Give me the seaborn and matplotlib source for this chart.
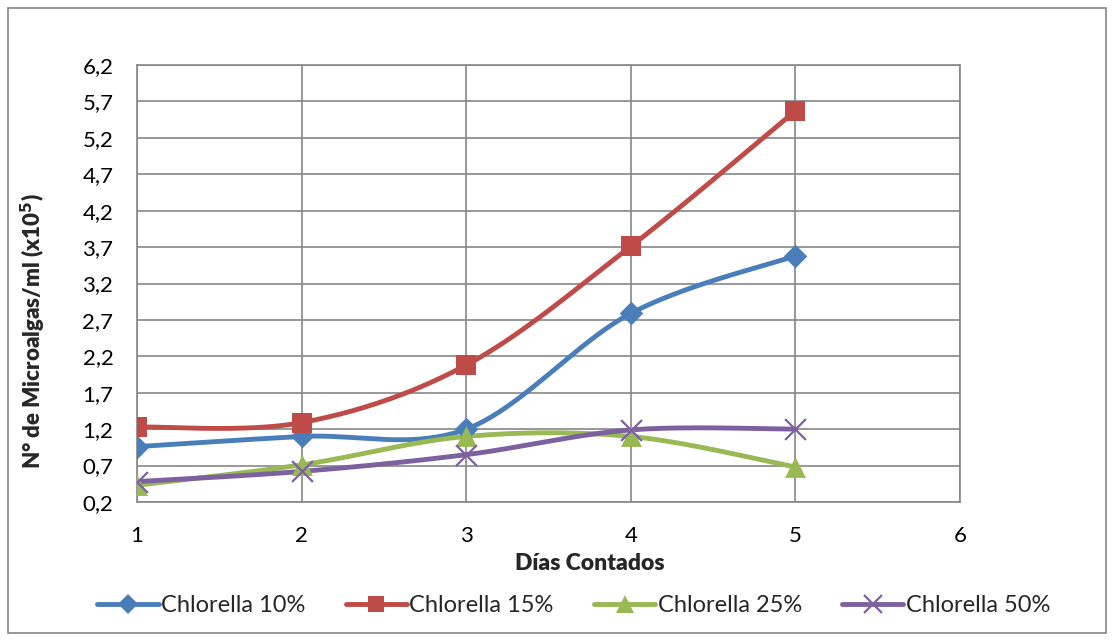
import numpy as np
import pandas as pd
import matplotlib
matplotlib.use("Agg")
import matplotlib.pyplot as plt
from matplotlib.lines import Line2D
from matplotlib.patches import Rectangle
from matplotlib.ticker import FuncFormatter
import seaborn as sns

dias = [1, 2, 3, 4, 5]
chlorella_10 = [0.96, 1.10, 1.20, 2.79, 3.58]
chlorella_15 = [1.23, 1.29, 2.08, 3.71, 5.57]
chlorella_25 = [0.43, 0.71, 1.10, 1.10, 0.68]
chlorella_50 = [0.48, 0.62, 0.85, 1.19, 1.20]
series_names = ["Chlorella 10%", "Chlorella 15%", "Chlorella 25%", "Chlorella 50%"]
y_ticks = [0.2, 0.7, 1.2, 1.7, 2.2, 2.7, 3.2, 3.7, 4.2, 4.7, 5.2, 5.7, 6.2]
x_ticks = [1, 2, 3, 4, 5, 6]

colors = ["#4A7EBB", "#BE4B48", "#98B954", "#7D60A0"]
markers = ["D", "s", "^", "x"]
msizes = [12, 14, 15, 15]


def smooth(xs, ys, n=40):
    """Bezier smoothing through every point (Catmull-Rom style control points)."""
    p = np.column_stack([xs, ys]).astype(float)
    ext = np.vstack([p[0], p, p[-1]])
    out = []
    t = np.linspace(0, 1, n)[:, None]
    for i in range(len(p) - 1):
        p0, p1, p2, p3 = ext[i], ext[i + 1], ext[i + 2], ext[i + 3]
        c1 = p1 + (p2 - p0) / 6.0
        c2 = p2 - (p3 - p1) / 6.0
        seg = ((1 - t) ** 3) * p1 + 3 * ((1 - t) ** 2) * t * c1 + 3 * (1 - t) * t ** 2 * c2 + t ** 3 * p2
        out.append(seg if i == 0 else seg[1:])
    return np.vstack(out)


sns.set_theme(style="white")
plt.rcParams["font.family"] = ["Lato", "DejaVu Sans"]

fig = plt.figure(figsize=(11.14, 6.41), dpi=100)
ax = fig.add_axes([137 / 1114, 1 - 502 / 641, (960 - 137) / 1114, (502 - 65) / 641])

all_series = [chlorella_10, chlorella_15, chlorella_25, chlorella_50]
for vals, name, c, m, ms in zip(all_series, series_names, colors, markers, msizes):
    curve = smooth(dias, vals)
    df_curve = pd.DataFrame({"x": curve[:, 0], "y": curve[:, 1]})
    sns.lineplot(data=df_curve, x="x", y="y", sort=False, color=c, linewidth=3.5,
                 ax=ax, zorder=3, estimator=None)
    df_pts = pd.DataFrame({"x": dias, "y": vals})
    if m == "x":
        sns.scatterplot(data=df_pts, x="x", y="y", marker="x", s=ms ** 2, color=c,
                        linewidth=1.6, ax=ax, zorder=4)
    else:
        sns.scatterplot(data=df_pts, x="x", y="y", marker=m, s=ms ** 2, color=c,
                        edgecolor=c, linewidth=0, ax=ax, zorder=4)

ax.set_xlim(1, 6)
ax.set_ylim(0.2, 6.2)
ax.set_xticks(x_ticks)
ax.set_yticks(y_ticks)
ax.yaxis.set_major_formatter(FuncFormatter(lambda v, _: f"{v:.1f}".replace(".", ",")))
ax.xaxis.set_major_formatter(FuncFormatter(lambda v, _: f"{int(round(v))}"))
ax.grid(True, color="#868686", linewidth=1.2)
ax.set_axisbelow(True)
for s in ax.spines.values():
    s.set_color("#868686")
    s.set_linewidth(1.2)
ax.tick_params(axis="both", labelsize=16, colors="black", length=0, pad=17)
ax.set_xlabel("Días Contados", fontsize=16.5, fontweight="heavy")
ax.xaxis.set_label_coords(0.55, -0.117)
ax.set_ylabel(r"N° de Microalgas/ml (x10$^{\mathbf{5}}$)", fontsize=16, fontweight="heavy")
ax.yaxis.set_label_coords(-0.108, 0.39)

handles = [
    Line2D([0], [0], color=c, linewidth=3.5, marker=m, markersize=ms * 0.85,
           markeredgewidth=1.6 if m == "x" else 0, markeredgecolor=c)
    for c, m, ms in zip(colors, markers, msizes)
]
fig.legend(handles, series_names, loc="center", bbox_to_anchor=(0.515, 1 - 606 / 641),
           ncol=4, frameon=False, fontsize=17, handlelength=2.6, handletextpad=0.1,
           columnspacing=1.7)

fig.patches.append(Rectangle((8 / 1114, 1 - 633 / 641), (1106 - 8) / 1114, (633 - 8) / 641,
                             transform=fig.transFigure, fill=False,
                             edgecolor="#868686", linewidth=1.2))

fig.savefig("out.png", dpi=100)
